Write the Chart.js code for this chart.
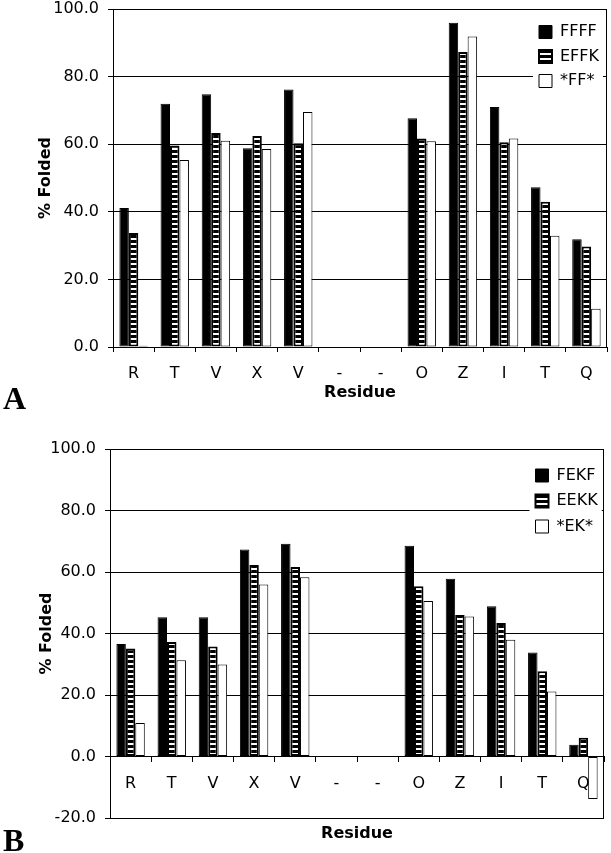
<!DOCTYPE html>
<html>
<head>
<meta charset="utf-8">
<title>% Folded by residue</title>
<script src="https://cdn.jsdelivr.net/npm/chart.js@4"></script>
<style>
body { margin: 0; background: #fff; width: 611px; height: 853px; position: relative; overflow: hidden; }
.panel { position: absolute; left: 0; width: 611px; }
#panelA { top: 0; height: 420px; }
#panelB { top: 420px; height: 433px; }
.tag { position: absolute; left: 3px; font-family: "Liberation Serif", "Times New Roman", serif; font-weight: bold; font-size: 32px; line-height: 32px; color: #000; }
</style>
</head>
<body>

<div class="panel" id="panelA"><canvas id="chartA" width="611" height="420"></canvas></div>
<div class="panel" id="panelB"><canvas id="chartB" width="611" height="433"></canvas></div>
<div class="tag" style="top:382px">A</div>
<div class="tag" style="top:824px">B</div>

<script>
//------------------------------------
// Data
//------------------------------------

const residues = ["R", "T", "V", "X", "V", "-", "-", "O", "Z", "I", "T", "Q"];

const yTicksA = [0, 20, 40, 60, 80, 100];
const yTicksB = [-20, 0, 20, 40, 60, 80, 100];

// panel A
const ffff   = [41.1, 72.0, 74.8, 58.8, 76.2, null, null, 67.7, 95.9, 71.0, 47.3, 31.9];
const effk   = [33.7, 59.6, 63.3, 62.4, 60.3, null, null, 61.7, 87.3, 60.6, 43.0, 29.7];
const ffStar = [0.4, 55.3, 61.0, 58.6, 69.5, null, null, 60.9, 91.9, 61.7, 32.9, 11.3];

// panel B
const fekf   = [36.6, 45.3, 45.3, 67.3, 69.2, null, null, 68.5, 57.8, 48.9, 33.8, 3.8];
const eekk   = [35.1, 37.2, 35.8, 62.3, 61.6, null, null, 55.4, 46.0, 43.4, 27.7, 6.1];
const ekStar = [10.9, 31.3, 29.9, 55.9, 58.3, null, null, 50.6, 45.5, 38.0, 21.1, -13.8];

Chart.defaults.font.family = '"DejaVu Sans", Verdana, sans-serif';
Chart.defaults.font.size = 16;
Chart.defaults.color = "#000";

//------------------------------------
// Helpers
//------------------------------------

function stripes(canvas) {

    const tile = document.createElement("canvas");
    tile.width = 4;
    tile.height = 5;

    const g = tile.getContext("2d");
    g.fillStyle = "#000";
    g.fillRect(0, 0, 4, 5);
    g.fillStyle = "#fff";
    g.fillRect(0, 3, 4, 2);

    return canvas.getContext("2d").createPattern(tile, "repeat");
}

// box round the plot area
const frame = {
    id: "frame",
    afterDatasetsDraw(chart) {
        const { ctx, chartArea: a } = chart;
        ctx.save();
        ctx.strokeStyle = "#000";
        ctx.lineWidth = 1;
        ctx.strokeRect(Math.round(a.left) + 0.5, Math.round(a.top) + 0.5,
            Math.round(a.right - a.left) - 1, Math.round(a.bottom - a.top));
        ctx.restore();
    }
};

// moves the legend to the top right of the plot, on a white patch
function legendAt(x, y) {
    return {
        id: "legendAt",
        afterLayout(chart) {
            const lg = chart.legend;
            lg.left = x;
            lg.top = y;
            lg.right = x + lg.width;
            lg.bottom = y + lg.height;

            if (lg._patched) return;
            const draw = lg.draw;
            lg.draw = function () {
                const boxes = this.legendHitBoxes;
                if (boxes && boxes.length) {
                    let l = Infinity, r = -Infinity;
                    boxes.forEach(b => { l = Math.min(l, b.left); r = Math.max(r, b.left + b.width); });
                    const t = boxes[0].top;
                    const last = boxes[boxes.length - 1];
                    this.ctx.save();
                    this.ctx.fillStyle = "#fff";
                    this.ctx.fillRect(l - 6, t - 6, r - l + 10, last.top + last.height - t + 12);
                    this.ctx.restore();
                }
                draw.call(this);
            };
            lg._patched = true;
        }
    };
}

function bars(label, data, fill, border) {
    return {
        label: label,
        data: data,
        backgroundColor: fill,
        borderColor: "#000",
        borderWidth: border,
        borderSkipped: false,
        categoryPercentage: 0.69,
        barPercentage: 1.0
    };
}

function yAxis(ticks, width, titlePad) {
    return {
        min: ticks[0],
        max: ticks[ticks.length - 1],
        afterBuildTicks: s => { s.ticks = ticks.map(v => ({ value: v })); },
        afterFit: s => { s.width = width; },
        // lineHeight 0 so the top label does not push the plot down
        ticks: { callback: v => Number(v).toFixed(1), padding: 9, font: { size: 16, lineHeight: 0 } },
        grid: { color: "#000", lineWidth: 1, tickLength: 5 },
        border: { color: "#000", width: 1 },
        title: {
            display: true,
            text: "% Folded",
            font: { size: 16, weight: "bold" },
            padding: { top: titlePad, bottom: 0 }
        }
    };
}

const legendOpts = (pad) => ({
    position: "chartArea",
    align: "start",
    labels: { boxWidth: 13, boxHeight: 13, padding: pad, font: { size: 16 } }
});

//------------------------------------
// Panel A
//------------------------------------

const canvasA = document.getElementById("chartA");

new Chart(canvasA, {
    type: "bar",
    data: {
        labels: residues,
        datasets: [
            bars("FFFF", ffff, "#000", 1),
            bars("EFFK", effk, stripes(canvasA), 2),
            bars("*FF*", ffStar, "#fff", 1)
        ]
    },
    options: {
        responsive: false,
        animation: false,
        layout: { padding: { top: 9, right: 4, bottom: 0, left: 0 } },
        plugins: {
            legend: legendOpts(8.5),
            tooltip: { enabled: false }
        },
        scales: {
            x: {
                type: "category",
                position: "bottom",
                afterFit: s => { s.height = 73; },
                ticks: { padding: 12.5, autoSkip: false, maxRotation: 0 },
                grid: { drawOnChartArea: false, tickLength: 5, color: "#000", offset: true },
                border: { color: "#000" },
                title: {
                    display: true,
                    text: "Residue",
                    font: { size: 16, weight: "bold" },
                    padding: { top: 0, bottom: 17.5 }
                }
            },
            y: yAxis(yTicksA, 113, 36)
        }
    },
    plugins: [frame, legendAt(530.5, 15.5)]
});

//------------------------------------
// Panel B
//------------------------------------

const canvasB = document.getElementById("chartB");

new Chart(canvasB, {
    type: "bar",
    data: {
        labels: residues,
        datasets: [
            bars("FEKF", fekf, "#000", 1),
            bars("EEKK", eekk, stripes(canvasB), 2),
            bars("*EK*", ekStar, "#fff", 1)
        ]
    },
    options: {
        responsive: false,
        animation: false,
        layout: { padding: { top: 29, right: 7, bottom: 0, left: 0 } },
        plugins: {
            legend: legendOpts(9.5),
            tooltip: { enabled: false }
        },
        scales: {
            x: {
                type: "category",
                position: { y: 0 },
                afterFit: s => { s.height = 0; },
                ticks: { padding: 12.5, autoSkip: false, maxRotation: 0 },
                grid: { drawOnChartArea: false, tickLength: 5, color: "#000", offset: true },
                border: { color: "#000" }
            },
            x2: {
                type: "category",
                position: "bottom",
                afterFit: s => { s.height = 35; },
                ticks: { display: false },
                grid: { display: false },
                border: { display: false },
                title: {
                    display: true,
                    text: "Residue",
                    font: { size: 16, weight: "bold" },
                    padding: { top: 0, bottom: 10 }
                }
            },
            y: yAxis(yTicksB, 110, 37.4)
        }
    },
    plugins: [frame, legendAt(526, 38)]
});
</script>
</body>
</html>
